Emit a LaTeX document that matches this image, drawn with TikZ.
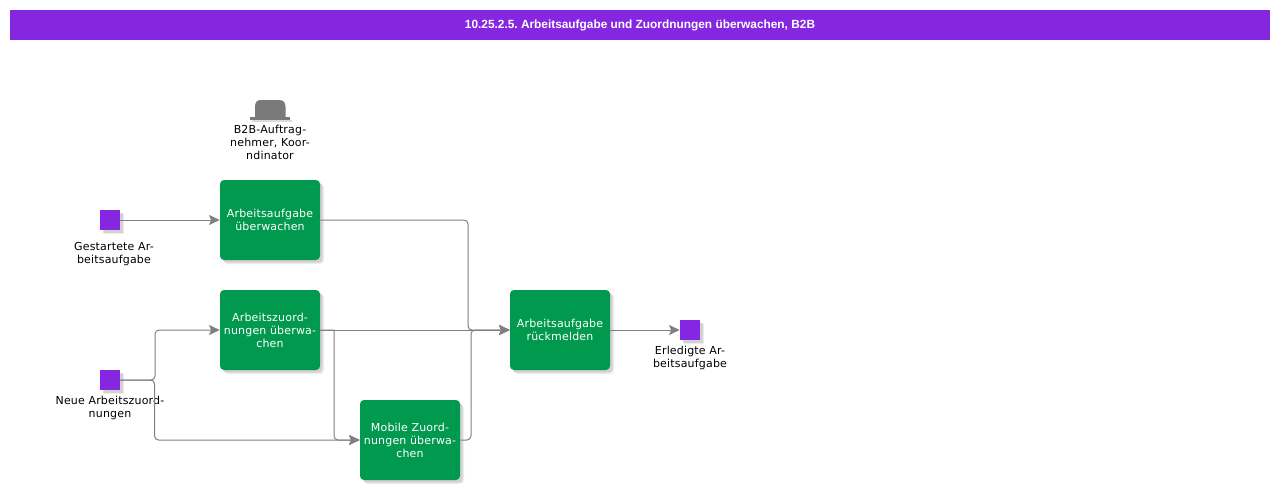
\documentclass[tikz,border=0pt]{standalone}
\usepackage{fontspec}
\setmainfont[LetterSpace=1.6]{DejaVu Sans}
\newfontfamily\titlefont{Liberation Sans}
\usetikzlibrary{arrows.meta, shadows}
\definecolor{barpurple}{HTML}{8526E0}
\definecolor{taskgreen}{HTML}{00994D}
\definecolor{linegray}{HTML}{808080}
\tikzstyle{softshadow} = [drop shadow={shadow xshift=3pt, shadow yshift=-3pt, fill=black!14}, drop shadow={shadow xshift=2pt, shadow yshift=-2pt, fill=black!28}]
\tikzstyle{task} = [rectangle, rounded corners=3pt, minimum width=75pt, minimum height=60pt, inner sep=0pt, align=center, text=white, fill=taskgreen, softshadow, font=\fontsize{8.25}{9.75}\selectfont]
\tikzstyle{event} = [rectangle, minimum width=15pt, minimum height=15pt, inner sep=0pt, fill=barpurple, softshadow]
\tikzstyle{caption} = [align=center, inner sep=0pt, text=black, font=\fontsize{8.25}{9.75}\selectfont]
\tikzstyle{arrow} = [draw=linegray, line width=0.75pt, rounded corners=3pt, -{Stealth[length=8pt, width=7.5pt, inset=1.5pt]}]

\begin{document}
\begin{tikzpicture}[x=0.75pt, y=-0.75pt]
\useasboundingbox (0,0) rectangle (1280,490);

\node (title) [rectangle, minimum width=945pt, minimum height=22.5pt, inner sep=0pt, fill=barpurple, text=white, font=\titlefont\bfseries\frenchspacing\fontsize{8.9}{11}\selectfont] at (640,25) {\raisebox{-0.4pt}{10.25.2.5. Arbeitsaufgabe und Zuordnungen überwachen, B2B}};

\node (watchTask) [task] at (270,220) {Arbeitsaufgabe\\überwachen};
\node (watchAssign) [task, below of=watchTask, node distance=82.5pt] {Arbeitszuord-\\nungen überwa-\\chen};
\node (watchMobile) [task] at (410,440) {Mobile Zuord-\\nungen überwa-\\chen};
\node (report) [task, right of=watchAssign, node distance=217.5pt] {Arbeitsaufgabe\\rückmelden};

\node (started) [event, left of=watchTask, node distance=120pt] {};
\node (newAssign) [event] at (110,380) {};
\node (done) [event, right of=report, node distance=97.5pt] {};

\node (startedText) [caption] at (114,254.5) {Gestartete Ar-\\beitsaufgabe};
\node (newAssignText) [caption] at (110,407.5) {Neue Arbeitszuord-\\nungen};
\node (doneText) [caption] at (690,357.5) {Erledigte Ar-\\beitsaufgabe};
\node (roleText) [caption] at (270,142) {B2B-Auftrag-\\nehmer, Koor-\\ndinator};

% role icon
\fill [black!14] (252,120) rectangle (292,122);
\fill [linegray!95!black] (255,117) -- (255,107) .. controls (255,102) and (257,100) .. (261,100) -- (279,100) .. controls (283,100) and (285.5,102) .. (285.5,107) -- (285.5,117) -- cycle;
\fill [linegray!95!black] (250,117) rectangle (290,120);

\coordinate (busTask) at (468,330);
\coordinate (busMobile) at (471,330);
\coordinate (busAssign) at (334,330);
\coordinate (forkUp) at (155,380);
\coordinate (forkDown) at (154.5,380);

\draw [arrow] (started) -- (watchTask);
\draw [arrow] (watchTask.east) -| (busTask) -- (report.west);
\draw [arrow] (watchAssign) -- (report);
\draw [arrow, sharp corners] (watchAssign.east) -- (busAssign) [rounded corners=3pt] |- (watchMobile.west);
\draw [arrow] (watchMobile.east) -| (busMobile) -- (report.west);
\draw [arrow] (newAssign.east) -- (forkUp) |- (watchAssign.west);
\draw [arrow] (newAssign.east) -- (forkDown) |- (watchMobile.west);
\draw [arrow] (report) -- (done);

\end{tikzpicture}
\end{document}
